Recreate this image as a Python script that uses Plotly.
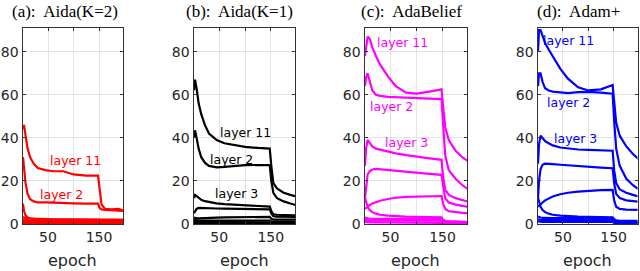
import plotly.graph_objects as go

# ---------------- data ----------------
epochs = [1, 3, 6, 10, 15, 22, 30, 45, 60, 80, 100, 125, 148, 151, 155, 162, 175, 188, 200]

panel_titles = ["(a):\u00a0 Aida(K=2)", "(b):\u00a0 Aida(K=1)", "(c):\u00a0 AdaBelief", "(d):\u00a0 Adam+"]
panel_colors = ["#ff0000", "#000000", "#ff00ff", "#0000ff"]

aida_k2 = [
    [44, 46, 41, 35, 31, 28, 26, 25, 24.5, 24.5, 23, 22.5, 22.5, 17, 9, 7, 6.8, 7, 6],
    [31, 26, 19, 14, 11.5, 10.5, 10, 10, 9.8, 9.7, 9.6, 9.5, 9.5, 7.5, 6.8, 6.6, 6.4, 6.2, 6],
    [9.5, 6, 4, 3, 2.6, 2.3, 2.2, 2.1, 2, 2, 1.9, 1.9, 1.9, 1.5, 1.2, 1.1, 1.1, 1, 1],
    [3.2, 3, 2.8, 2.6, 2.5, 2.4, 2.3, 2.3, 2.2, 2.2, 2.1, 2.1, 2.1, 1.9, 1.9, 1.9, 2, 2, 2.1],
    [2, 1.9, 1.8, 1.7, 1.6, 1.5, 1.5, 1.5, 1.5, 1.4, 1.4, 1.4, 1.4, 1.2, 1.2, 1.2, 1.3, 1.3, 1.3],
    [1.2, 1.1, 1.1, 1, 1, 1, 1, 1, 1, 1, 1, 1, 1, 0.8, 0.8, 0.8, 0.8, 0.8, 0.8],
    [0.7, 0.6, 0.6, 0.6, 0.6, 0.6, 0.6, 0.6, 0.6, 0.6, 0.6, 0.6, 0.6, 0.5, 0.5, 0.5, 0.5, 0.5, 0.5],
    [0.3, 0.3, 0.3, 0.3, 0.3, 0.3, 0.3, 0.3, 0.3, 0.3, 0.3, 0.3, 0.3, 0.2, 0.2, 0.2, 0.2, 0.2, 0.2],
]

aida_k1 = [
    [62, 67, 63, 56, 51, 46, 42, 39, 37.5, 36.5, 35.8, 35.3, 35, 27, 19, 16.5, 14.5, 13.5, 12.8],
    [40, 43.5, 40, 35, 31, 28.5, 27, 26.3, 26.5, 27, 27.3, 27.4, 27.3, 20, 14.5, 12, 10.5, 9.5, 8.7],
    [12, 13.5, 13, 12, 11.2, 10.6, 10.2, 9.6, 9.2, 8.9, 8.6, 8.3, 8.1, 6, 4.5, 4.3, 4.2, 4.1, 4],
    [5, 6, 7, 7.5, 7.5, 7.4, 7.3, 7.2, 7.1, 7, 7, 6.9, 6.8, 5, 3.6, 3.4, 3.4, 3.3, 3.3],
    [3, 2.8, 2.6, 2.6, 2.7, 2.8, 2.9, 3, 3.1, 3.2, 3.2, 3.3, 3.3, 2.5, 2, 2, 2, 2, 2],
    [2.2, 2, 1.8, 1.7, 1.6, 1.6, 1.6, 1.6, 1.6, 1.6, 1.6, 1.6, 1.6, 1.2, 1.1, 1.1, 1.1, 1.1, 1.1],
    [1.3, 1.2, 1.1, 1, 1, 1, 1, 1, 1, 1, 1, 1, 1, 0.7, 0.6, 0.6, 0.6, 0.6, 0.6],
    [0.5, 0.5, 0.4, 0.4, 0.4, 0.4, 0.4, 0.4, 0.4, 0.4, 0.4, 0.4, 0.4, 0.3, 0.3, 0.3, 0.3, 0.3, 0.3],
]

adabelief = [
    [78, 82, 87, 86, 82, 78, 74, 68.5, 64, 61, 60.5, 61.5, 62.5, 55, 45, 39, 34, 31, 29],
    [64, 68, 70, 66, 62, 60, 59.5, 59, 58.8, 58.5, 58.3, 58.2, 58, 45, 32, 25, 21, 18, 16],
    [27, 35, 39, 37.5, 36, 35, 34.5, 33.5, 32.8, 32, 31.2, 30.5, 29.8, 22, 16, 13.5, 12, 11, 10.3],
    [12, 18, 23, 24.5, 25.3, 25.6, 25.4, 25, 24.6, 24.2, 23.8, 23.3, 22.8, 17, 12, 10, 9, 8.4, 8],
    [7, 7.5, 8, 8.8, 9.5, 10.2, 10.8, 11.6, 12.2, 12.6, 12.8, 13, 13, 9.5, 7, 6, 5.5, 5.2, 5],
    [12, 10, 8, 6.5, 5.5, 4.8, 4.3, 3.9, 3.6, 3.4, 3.3, 3.2, 3.1, 2, 1.5, 1.3, 1.2, 1.1, 1],
    [3, 2.8, 2.6, 2.5, 2.4, 2.4, 2.4, 2.4, 2.4, 2.4, 2.5, 2.5, 2.5, 1.5, 1, 0.9, 0.8, 0.8, 0.8],
    [2, 1.8, 1.7, 1.6, 1.6, 1.6, 1.6, 1.6, 1.6, 1.6, 1.6, 1.6, 1.6, 0.9, 0.7, 0.6, 0.6, 0.6, 0.6],
    [1, 0.9, 0.8, 0.8, 0.8, 0.8, 0.8, 0.8, 0.8, 0.8, 0.8, 0.8, 0.8, 0.5, 0.4, 0.4, 0.4, 0.4, 0.4],
]

adam_plus = [
    [80, 90, 90, 87, 84, 81, 78, 72, 67.5, 63.5, 62, 62.5, 64.5, 57, 47, 41, 36, 32.5, 30],
    [64, 70, 70, 66, 63, 62, 61.5, 61, 60.8, 61.2, 61.3, 61, 60.5, 48, 35, 27, 21, 18, 16],
    [28, 37, 41, 40, 38.5, 37.5, 36.5, 35.5, 35, 34.6, 34.4, 34.2, 34, 25, 19, 16, 14.5, 13.5, 12.7],
    [12, 20, 25.5, 27.5, 28, 28, 27.8, 27.5, 27.2, 26.8, 26.5, 26.2, 25.9, 19, 14, 12, 11, 10.6, 10.3],
    [8, 8.5, 9, 10, 11, 12, 12.8, 13.8, 14.5, 15, 15.4, 15.7, 15.8, 11, 8, 7, 6.7, 6.5, 6.5],
    [12, 10, 8, 6.5, 5.5, 4.8, 4.3, 3.9, 3.6, 3.4, 3.3, 3.2, 3.1, 2.2, 1.7, 1.5, 1.5, 1.5, 1.5],
    [3.5, 3.2, 3, 2.8, 2.7, 2.7, 2.7, 2.7, 2.7, 2.7, 2.7, 2.7, 2.7, 1.5, 1, 0.9, 0.8, 0.8, 0.8],
    [2.2, 2, 1.9, 1.8, 1.8, 1.8, 1.8, 1.8, 1.8, 1.8, 1.8, 1.8, 1.8, 1, 0.7, 0.6, 0.6, 0.6, 0.6],
    [1.2, 1.1, 1, 1, 1, 1, 1, 1, 1, 1, 1, 1, 1, 0.5, 0.4, 0.4, 0.4, 0.4, 0.4],
]

panels = [aida_k2, aida_k1, adabelief, adam_plus]

y_ticks = [0, 20, 40, 60, 80]
x_ticks = [50, 100, 150]
x_tick_labels = ["50", "", "150"]
x_label = "epoch"

# layer labels per panel: (text, x_px, y_px)
layer_labels = [
    [("layer 11", 75, 160), ("layer 2", 61, 194)],
    [("layer 11", 245, 132), ("layer 2", 231, 159), ("layer 3", 236, 193)],
    [("layer 11", 402, 43), ("layer 2", 391, 106), ("layer 3", 406, 142)],
    [("layer 11", 568, 41), ("layer 2", 568, 103), ("layer 3", 575, 138)],
]

# ---------------- layout geometry ----------------
W, H = 640, 271
x_px = [(22.5, 123), (193.5, 295), (364.5, 467), (537.5, 637.5)]
y_top, y_bot = 28, 224
title_cx = [64.5, 239, 411, 578]

def px(x):
    return x / W

def py(y):
    return 1 - y / H

fig = go.Figure()
annotations = []
axis_col = "#333333"
grid_col = "#e3e3e3"
tick_font = dict(family="DejaVu Sans", size=14, color="#262626")

for i, (series_list, color) in enumerate(zip(panels, panel_colors)):
    xa = "x" if i == 0 else f"x{i+1}"
    ya = "y" if i == 0 else f"y{i+1}"
    for s in series_list:
        fig.add_trace(go.Scatter(x=epochs, y=s, mode="lines", xaxis=xa, yaxis=ya,
                                 line=dict(color=color, width=2.2), showlegend=False,
                                 hoverinfo="skip"))
    xkey = "xaxis" if i == 0 else f"xaxis{i+1}"
    ykey = "yaxis" if i == 0 else f"yaxis{i+1}"
    fig.layout[xkey] = dict(domain=[px(x_px[i][0]), px(x_px[i][1])], range=[0, 197],
                            anchor=ya, tickvals=x_ticks, ticktext=x_tick_labels,
                            showline=True, mirror="ticks", linecolor=axis_col, linewidth=1,
                            ticks="inside", ticklen=3, tickcolor=axis_col,
                            showgrid=True, gridcolor=grid_col, gridwidth=1,
                            zeroline=False, tickfont=tick_font, automargin=False)
    fig.layout[ykey] = dict(domain=[py(y_bot), py(y_top)], range=[0, 91],
                            anchor=xa, tickvals=y_ticks,
                            showline=True, mirror="ticks", linecolor=axis_col, linewidth=1,
                            ticks="inside", ticklen=3, tickcolor=axis_col,
                            showgrid=True, gridcolor=grid_col, gridwidth=1,
                            zeroline=False, tickfont=tick_font, automargin=False)
    annotations.append(dict(text=panel_titles[i], x=px(title_cx[i]), y=py(12),
                            xref="paper", yref="paper", xanchor="center", yanchor="middle",
                            showarrow=False,
                            font=dict(family="Liberation Serif", size=17, color="#000000")))
    annotations.append(dict(text=x_label, x=px((x_px[i][0] + x_px[i][1]) / 2), y=py(260),
                            xref="paper", yref="paper", xanchor="center", yanchor="middle",
                            showarrow=False,
                            font=dict(family="DejaVu Sans", size=16, color="#262626")))
    for (txt, lx, ly) in layer_labels[i]:
        annotations.append(dict(text=txt, x=px(lx), y=py(ly), xref="paper", yref="paper",
                                xanchor="center", yanchor="middle", showarrow=False,
                                font=dict(family="DejaVu Sans", size=12.5, color=color)))

fig.update_layout(template="none", width=W, height=H, autosize=False,
                  margin=dict(l=0, r=0, t=0, b=0, pad=0),
                  paper_bgcolor="white", plot_bgcolor="white",
                  annotations=annotations)

page_fix = ("var d=document.documentElement,b=document.body;"
            "d.style.margin='0';d.style.padding='0';d.style.overflow='hidden';"
            "d.style.height='271px';b.style.margin='0';b.style.padding='0';"
            "b.style.overflow='hidden';b.style.height='271px';")

fig.write_html("out.html", config={"displayModeBar": False, "staticPlot": True},
               post_script=page_fix)
